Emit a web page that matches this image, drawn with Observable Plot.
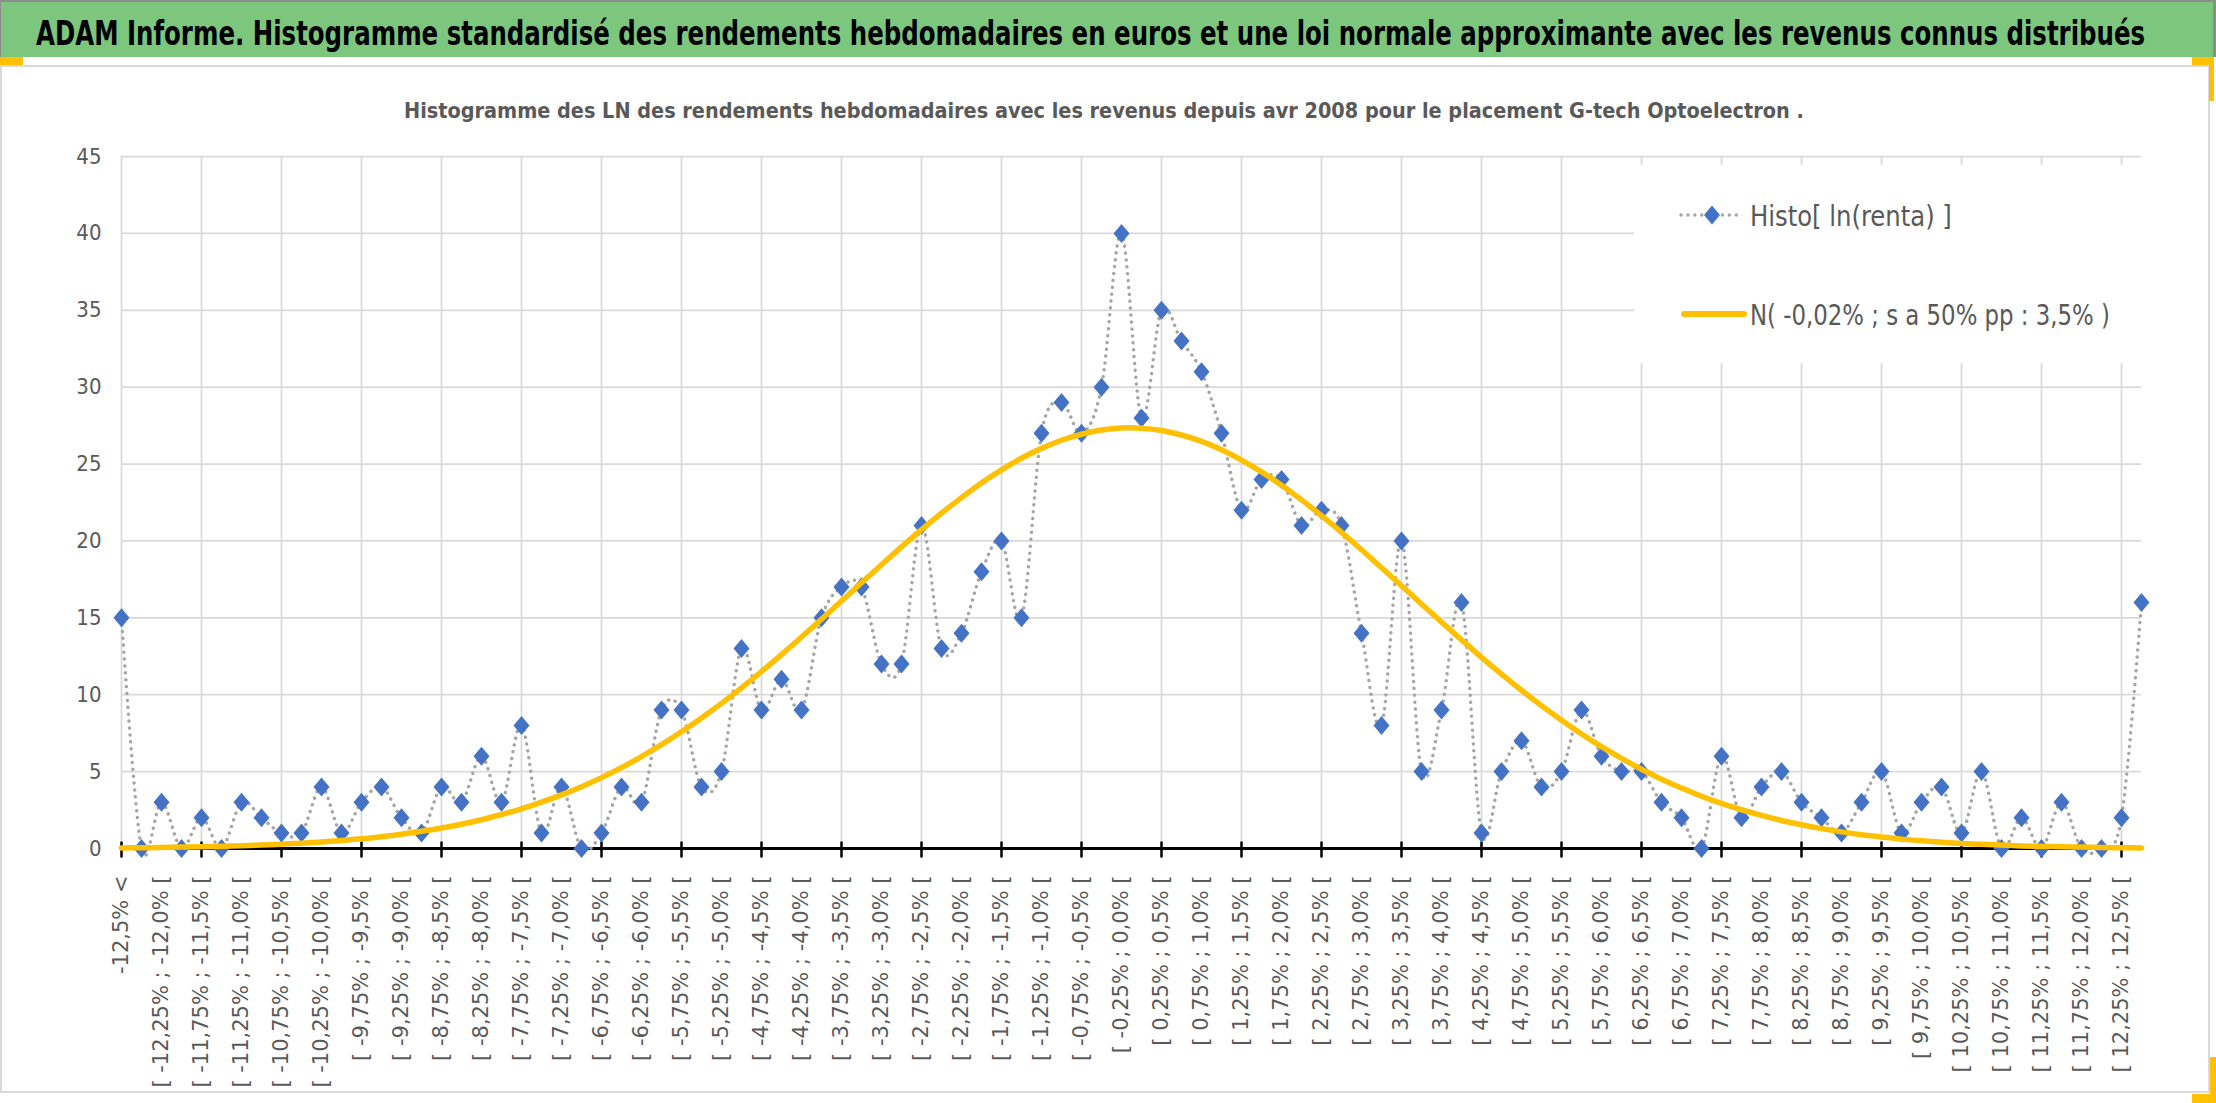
<!DOCTYPE html>
<html>
<head>
<meta charset="utf-8">
<script src="https://cdn.jsdelivr.net/npm/d3@7"></script>
<script src="https://cdn.jsdelivr.net/npm/@observablehq/plot@0.6"></script>
<style>
  html, body { margin: 0; padding: 0; background: #ffffff; }
  #root { position: relative; width: 2216px; height: 1103px; overflow: hidden; background: #ffffff; }
  #bg, #fg, #plot { position: absolute; left: 0; top: 0; }
  #fg { pointer-events: none; }
</style>
</head>
<body>
<div id="root">
  <svg id="bg" width="2216" height="1103"></svg>
  <div id="plot"></div>
  <svg id="fg" width="2216" height="1103"></svg>
</div>
<script>
// ---------------- DATA ----------------
const titleText = "ADAM Informe. Histogramme standardisé des rendements hebdomadaires en euros et une loi normale approximante avec les revenus connus distribués";
const subtitleText = "Histogramme des LN des rendements hebdomadaires avec les revenus depuis avr 2008 pour le placement G-tech Optoelectron .";
const seriesNames = ["Histo[ ln(renta) ]", "N( -0,02% ; s a 50% pp : 3,5% )"];

const categories = [
  "-12,5% <",
  "[ -12,5% ; -12,25% [","[ -12,25% ; -12,0% [","[ -12,0% ; -11,75% [","[ -11,75% ; -11,5% [",
  "[ -11,5% ; -11,25% [","[ -11,25% ; -11,0% [","[ -11,0% ; -10,75% [","[ -10,75% ; -10,5% [",
  "[ -10,5% ; -10,25% [","[ -10,25% ; -10,0% [","[ -10,0% ; -9,75% [","[ -9,75% ; -9,5% [",
  "[ -9,5% ; -9,25% [","[ -9,25% ; -9,0% [","[ -9,0% ; -8,75% [","[ -8,75% ; -8,5% [",
  "[ -8,5% ; -8,25% [","[ -8,25% ; -8,0% [","[ -8,0% ; -7,75% [","[ -7,75% ; -7,5% [",
  "[ -7,5% ; -7,25% [","[ -7,25% ; -7,0% [","[ -7,0% ; -6,75% [","[ -6,75% ; -6,5% [",
  "[ -6,5% ; -6,25% [","[ -6,25% ; -6,0% [","[ -6,0% ; -5,75% [","[ -5,75% ; -5,5% [",
  "[ -5,5% ; -5,25% [","[ -5,25% ; -5,0% [","[ -5,0% ; -4,75% [","[ -4,75% ; -4,5% [",
  "[ -4,5% ; -4,25% [","[ -4,25% ; -4,0% [","[ -4,0% ; -3,75% [","[ -3,75% ; -3,5% [",
  "[ -3,5% ; -3,25% [","[ -3,25% ; -3,0% [","[ -3,0% ; -2,75% [","[ -2,75% ; -2,5% [",
  "[ -2,5% ; -2,25% [","[ -2,25% ; -2,0% [","[ -2,0% ; -1,75% [","[ -1,75% ; -1,5% [",
  "[ -1,5% ; -1,25% [","[ -1,25% ; -1,0% [","[ -1,0% ; -0,75% [","[ -0,75% ; -0,5% [",
  "[ -0,5% ; -0,25% [","[ -0,25% ; 0,0% [","[ 0,0% ; 0,25% [","[ 0,25% ; 0,5% [",
  "[ 0,5% ; 0,75% [","[ 0,75% ; 1,0% [","[ 1,0% ; 1,25% [","[ 1,25% ; 1,5% [",
  "[ 1,5% ; 1,75% [","[ 1,75% ; 2,0% [","[ 2,0% ; 2,25% [","[ 2,25% ; 2,5% [",
  "[ 2,5% ; 2,75% [","[ 2,75% ; 3,0% [","[ 3,0% ; 3,25% [","[ 3,25% ; 3,5% [",
  "[ 3,5% ; 3,75% [","[ 3,75% ; 4,0% [","[ 4,0% ; 4,25% [","[ 4,25% ; 4,5% [",
  "[ 4,5% ; 4,75% [","[ 4,75% ; 5,0% [","[ 5,0% ; 5,25% [","[ 5,25% ; 5,5% [",
  "[ 5,5% ; 5,75% [","[ 5,75% ; 6,0% [","[ 6,0% ; 6,25% [","[ 6,25% ; 6,5% [",
  "[ 6,5% ; 6,75% [","[ 6,75% ; 7,0% [","[ 7,0% ; 7,25% [","[ 7,25% ; 7,5% [",
  "[ 7,5% ; 7,75% [","[ 7,75% ; 8,0% [","[ 8,0% ; 8,25% [","[ 8,25% ; 8,5% [",
  "[ 8,5% ; 8,75% [","[ 8,75% ; 9,0% [","[ 9,0% ; 9,25% [","[ 9,25% ; 9,5% [",
  "[ 9,5% ; 9,75% [","[ 9,75% ; 10,0% [","[ 10,0% ; 10,25% [","[ 10,25% ; 10,5% [",
  "[ 10,5% ; 10,75% [","[ 10,75% ; 11,0% [","[ 11,0% ; 11,25% [","[ 11,25% ; 11,5% [",
  "[ 11,5% ; 11,75% [","[ 11,75% ; 12,0% [","[ 12,0% ; 12,25% [","[ 12,25% ; 12,5% [",
  "12,5% <="
];

const histo = [
  15,0,3,0,2,0,3,2,1,1,
  4,1,3,4,2,1,4,3,6,3,
  8,1,4,0,1,4,3,9,9,4,
  5,13,9,11,9,15,17,17,12,12,
  21,13,14,18,20,15,27,29,27,30,
  40,28,35,33,31,27,22,24,24,21,
  22,21,14,8,20,5,9,16,1,5,
  7,4,5,9,6,5,5,3,2,0,
  6,2,4,5,3,2,1,3,5,1,
  3,4,1,5,0,2,0,3,0,0,
  2,16
];

const normal = [
  0.04,0.05,0.07,0.09,0.11,0.14,0.18,0.22,0.28,0.34,
  0.42,0.52,0.63,0.77,0.93,1.12,1.33,1.58,1.87,2.21,
  2.58,3.01,3.49,4.02,4.61,5.26,5.98,6.75,7.59,8.49,
  9.44,10.45,11.51,12.61,13.75,14.91,16.09,17.28,18.45,19.61,
  20.73,21.81,22.82,23.77,24.62,25.38,26.02,26.55,26.94,27.21,
  27.34,27.33,27.18,26.89,26.47,25.93,25.26,24.49,23.62,22.67,
  21.64,20.56,19.43,18.26,17.09,15.90,14.73,13.57,12.43,11.34,
  10.29,9.29,8.34,7.45,6.62,5.86,5.15,4.51,3.93,3.40,
  2.93,2.52,2.15,1.82,1.54,1.29,1.08,0.90,0.75,0.61,
  0.50,0.41,0.33,0.27,0.22,0.17,0.14,0.11,0.09,0.07,
  0.05,0.04
];

const yTicks = [0,5,10,15,20,25,30,35,40,45];

// ---------------- DERIVED ----------------
const rows = categories.map((c, i) => ({cat: c, histo: histo[i], normal: normal[i]}));
const labelCats = categories.filter((d, i) => i % 2 === 0);
const gridCats = categories.filter((d, i) => i % 4 === 0);

const narrow = '"Liberation Sans Narrow", "DejaVu Sans Condensed", "Roboto Condensed", Roboto, "Liberation Sans", sans-serif';
const GREY_TEXT = "#595959";
const BLUE = "#4472C4";
const GOLD = "#FFC000";
const DOTGREY = "#A5A5A5";

const diamond = {
  draw(ctx) {
    ctx.moveTo(0, -9.5); ctx.lineTo(8, 0); ctx.lineTo(0, 9.5); ctx.lineTo(-8, 0); ctx.closePath();
  }
};

// Fit a text to a target width by choosing its font size, then restore the
// wanted glyph height with a vertical scale (keeps the natural box in place).
function fitText(sel, targetWidth, glyphSize) {
  const node = sel.node();
  node.setAttribute("font-size", glyphSize);
  const len = node.getComputedTextLength() || targetWidth;
  const fs = glyphSize * targetWidth / len;
  node.setAttribute("font-size", fs);
  const x = +node.getAttribute("x"), y = +node.getAttribute("y");
  node.setAttribute("transform",
    `translate(${x},${y}) scale(1,${glyphSize / fs}) translate(${-x},${-y})`);
}

// ---------------- BACKGROUND FRAME ----------------
const bg = d3.select("#bg");
bg.append("rect").attr("x", 1).attr("y", 66).attr("width", 2208).attr("height", 1026)
  .attr("fill", "#ffffff").attr("stroke", "#d9d9d9").attr("stroke-width", 2);
bg.append("rect").attr("x", 0).attr("y", 0).attr("width", 2216).attr("height", 2).attr("fill", "#8c8c8c");
bg.append("rect").attr("x", 0).attr("y", 2).attr("width", 2213).attr("height", 55).attr("fill", "#7DC67D");
bg.append("rect").attr("x", 2213).attr("y", 0).attr("width", 3).attr("height", 57).attr("fill", "#8c8c8c");
bg.append("rect").attr("x", 0).attr("y", 2).attr("width", 1).attr("height", 55).attr("fill", "#8c8c8c");
const title = bg.append("text")
  .attr("x", 36).attr("y", 45)
  .attr("font-family", narrow).attr("font-weight", "bold")
  .attr("fill", "#000000")
  .text(titleText);
fitText(title, 2110, 34);
const subtitle = bg.append("text")
  .attr("x", 404).attr("y", 118)
  .attr("font-family", narrow).attr("font-weight", "bold")
  .attr("fill", GREY_TEXT)
  .text(subtitleText);
fitText(subtitle, 1400, 22);

// ---------------- PLOT ----------------
const chart = Plot.plot({
  width: 2216,
  height: 1103,
  marginTop: 156,
  marginBottom: 255,
  marginLeft: 121,
  marginRight: 75,
  style: {background: "transparent", overflow: "visible", fontFamily: narrow},
  x: {type: "point", domain: categories, padding: 0, axis: null},
  y: {domain: [0, 45], axis: null},
  marks: [
    Plot.gridY(yTicks, {stroke: "#d9d9d9", strokeOpacity: 1, strokeWidth: 1.75}),
    Plot.gridX(gridCats, {stroke: "#d9d9d9", strokeOpacity: 1, strokeWidth: 1.75}),
    Plot.ruleY([0], {stroke: "#000000", strokeWidth: 3}),
    Plot.ruleX(gridCats, {x: d => d, y1: 0.42, y2: -0.62, stroke: "#000000", strokeWidth: 2.5}),
    Plot.line(rows, {x: "cat", y: "histo", curve: "cardinal", stroke: DOTGREY, strokeWidth: 3.4,
      strokeDasharray: "0.1 6.8", strokeLinecap: "round"}),
    Plot.dot(rows, {x: "cat", y: "histo", symbol: diamond, fill: BLUE, stroke: "none", r: 8}),
    Plot.line(rows, {x: "cat", y: "normal", curve: "cardinal", stroke: GOLD, strokeWidth: 5.5}),
    Plot.axisY({ticks: yTicks, tickSize: 0, tickPadding: 20, fontSize: 22, fill: GREY_TEXT, label: null, fontFamily: narrow}),
    Plot.axisX({ticks: labelCats, tickRotate: -90, tickSize: 0, tickPadding: 27, fontSize: 21,
      fontFamily: '"DejaVu Sans", Verdana, sans-serif', fill: GREY_TEXT, label: null})
  ]
});
document.getElementById("plot").appendChild(chart);

// ---------------- LEGEND & HANDLES ----------------
const fg = d3.select("#fg");
fg.append("rect").attr("x", 1634).attr("y", 165).attr("width", 516).attr("height", 198).attr("fill", "#ffffff");
fg.append("line").attr("x1", 1681).attr("x2", 1741).attr("y1", 215).attr("y2", 215)
  .attr("stroke", DOTGREY).attr("stroke-width", 3.4).attr("stroke-dasharray", "0.1 6.8").attr("stroke-linecap", "round");
fg.append("path").attr("d", "M0,-9.5L8,0L0,9.5L-8,0Z").attr("transform", "translate(1712,215)").attr("fill", BLUE);
const leg1 = fg.append("text").attr("x", 1750).attr("y", 226)
  .attr("font-family", narrow).attr("fill", GREY_TEXT)
  .text(seriesNames[0]);
fitText(leg1, 202, 29);
fg.append("line").attr("x1", 1684).attr("x2", 1744).attr("y1", 314).attr("y2", 314)
  .attr("stroke", GOLD).attr("stroke-width", 6).attr("stroke-linecap", "round");
const leg2 = fg.append("text").attr("x", 1750).attr("y", 325)
  .attr("font-family", narrow).attr("fill", GREY_TEXT)
  .text(seriesNames[1]);
fitText(leg2, 360, 29);

// Excel selection handles
fg.append("rect").attr("x", 0).attr("y", 57).attr("width", 23).attr("height", 8).attr("fill", GOLD);
fg.append("rect").attr("x", 2192).attr("y", 57).attr("width", 22).attr("height", 8).attr("fill", GOLD);
fg.append("rect").attr("x", 2209).attr("y", 57).attr("width", 5).attr("height", 44).attr("fill", GOLD);
fg.append("rect").attr("x", 2210).attr("y", 1057).attr("width", 6).attr("height", 46).attr("fill", GOLD);
fg.append("rect").attr("x", 2192).attr("y", 1094).attr("width", 24).attr("height", 9).attr("fill", GOLD);
</script>
</body>
</html>
